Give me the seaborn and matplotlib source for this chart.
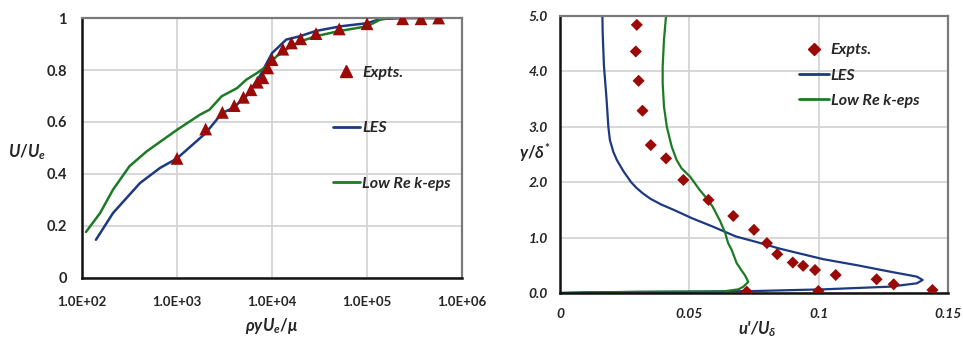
import matplotlib
matplotlib.use("Agg")
import matplotlib.pyplot as plt
import matplotlib.ticker as mticker
from matplotlib.lines import Line2D
import numpy as np
import pandas as pd
import seaborn as sns

# ---- mean velocity profile (left) ----
vel_exp_re = [1000, 2000, 3000, 4000, 5000, 6000, 7000, 8000, 9000, 10000,
              13000, 16000, 20000, 29000, 51000, 100000, 237000, 370000, 567000]
vel_exp_u = [0.46, 0.573, 0.637, 0.663, 0.695, 0.724, 0.753, 0.77, 0.808, 0.84,
             0.88, 0.904, 0.92, 0.94, 0.958, 0.978, 0.997, 0.997, 1.0]

vel_les_re = [140, 212, 407, 660, 1000, 2000, 2990, 3900, 5370, 7410, 10000,
              14100, 19700, 28800, 52500, 100000, 138000, 251000, 562000]
vel_les_u = [0.147, 0.25, 0.365, 0.423, 0.46, 0.557, 0.635, 0.654, 0.70, 0.776,
             0.865, 0.917, 0.93, 0.95, 0.968, 0.98, 0.996, 1.0, 1.0]

vel_ke_re = [110, 155, 212, 316, 479, 1000, 1740, 2190, 2950, 4270, 5370, 6920,
             8710, 11200, 15500, 20000, 28800, 51300, 100000, 138000, 174000, 562000]
vel_ke_u = [0.177, 0.25, 0.34, 0.43, 0.487, 0.57, 0.628, 0.647, 0.699, 0.73, 0.763,
            0.788, 0.814, 0.853, 0.89, 0.91, 0.93, 0.95, 0.968, 0.994, 1.0, 1.0]

vel_xticks = [1e2, 1e3, 1e4, 1e5, 1e6]
vel_xticklabels = ["1.0E+02", "1.0E+03", "1.0E+04", "1.0E+05", "1.0E+06"]
vel_yticks = [0, 0.2, 0.4, 0.6, 0.8, 1.0]
vel_yticklabels = ["0", "0.2", "0.4", "0.6", "0.8", "1"]

# ---- streamwise turbulence intensity (right) ----
rms_exp_u = [0.0297, 0.0293, 0.0304, 0.0319, 0.0351, 0.041, 0.0477, 0.0574, 0.067,
             0.075, 0.080, 0.084, 0.090, 0.094, 0.0986, 0.1066, 0.1224, 0.129,
             0.144, 0.0999, 0.0722]
rms_exp_y = [4.84, 4.36, 3.83, 3.29, 2.67, 2.43, 2.04, 1.68, 1.39, 1.14, 0.90, 0.70,
             0.55, 0.49, 0.415, 0.325, 0.247, 0.157, 0.054, 0.036, 0.024]

rms_les_u = [0.0, 0.01, 0.03, 0.05, 0.075, 0.1018, 0.1276, 0.138, 0.1402, 0.138,
             0.1276, 0.115, 0.1018, 0.085, 0.076, 0.068, 0.059, 0.051, 0.044,
             0.039, 0.035, 0.032, 0.0295, 0.0275, 0.0245, 0.022, 0.0206, 0.0193,
             0.0187, 0.018, 0.017, 0.0165, 0.0164]
rms_les_y = [0.0, 0.012, 0.02, 0.025, 0.035, 0.066, 0.114, 0.175, 0.235, 0.295,
             0.385, 0.50, 0.61, 0.80, 0.92, 1.02, 1.20, 1.35, 1.50,
             1.60, 1.70, 1.80, 1.90, 2.00, 2.20, 2.40, 2.55, 2.76,
             3.0, 3.5, 4.1, 4.7, 5.0]

rms_ke_u = [0.0, 0.03, 0.0627, 0.069, 0.0709, 0.0728, 0.0715, 0.0703, 0.0683, 0.0664,
            0.065, 0.0639, 0.062, 0.059, 0.0567, 0.054, 0.0503, 0.047, 0.0451,
            0.0432, 0.0413, 0.0402, 0.0397, 0.0397, 0.0402, 0.041]
rms_ke_y = [0.0, 0.02, 0.026, 0.066, 0.114, 0.20, 0.32, 0.40, 0.54, 0.776,
            0.9, 1.08, 1.29, 1.56, 1.71, 1.86, 2.1, 2.25, 2.4,
            2.64, 3.0, 3.37, 3.79, 4.09, 4.57, 5.0]

rms_xticks = [0, 0.05, 0.1, 0.15]
rms_xticklabels = ["0", "0.05", "0.1", "0.15"]
rms_yticks = [0, 1, 2, 3, 4, 5]
rms_yticklabels = ["0.0", "1.0", "2.0", "3.0", "4.0", "5.0"]

series_names = ["Expts.", "LES", "Low Re k-eps"]

# ---- styling ----
sns.set_theme(style="whitegrid")
plt.rcParams["font.family"] = ["Lato", "DejaVu Sans"]
plt.rcParams["mathtext.fontset"] = "custom"
plt.rcParams["mathtext.it"] = "Lato:italic:bold"
plt.rcParams["mathtext.rm"] = "Lato:bold"
plt.rcParams["mathtext.bf"] = "Lato:bold"

RED = "#9a0a06"
BLUE = "#1d3a80"
GREEN = "#1d7a25"
GRID = "#d4d4d4"

fig = plt.figure(figsize=(9.63, 3.41), dpi=100)
ax1 = fig.add_axes([0.0852, 0.1848, 0.3946, 0.7624])
ax2 = fig.add_axes([0.5815, 0.1408, 0.4029, 0.8123])


def frame(ax):
    ax.set_facecolor("white")
    ax.grid(True, color=GRID, linewidth=1.3)
    ax.set_axisbelow(True)
    for side in ("left", "bottom"):
        ax.spines[side].set_color("#111111")
        ax.spines[side].set_linewidth(1.8)
    for side in ("top", "right"):
        ax.spines[side].set_color("#7a7a7a")
        ax.spines[side].set_linewidth(1.6)
    ax.tick_params(length=0)


# left panel
vel_les = pd.DataFrame({"x": vel_les_re, "y": vel_les_u})
vel_ke = pd.DataFrame({"x": vel_ke_re, "y": vel_ke_u})
vel_exp = pd.DataFrame({"x": vel_exp_re, "y": vel_exp_u})

sns.lineplot(data=vel_les, x="x", y="y", ax=ax1, color=BLUE, linewidth=1.8,
             sort=False, estimator=None)
sns.lineplot(data=vel_ke, x="x", y="y", ax=ax1, color=GREEN, linewidth=1.8,
             sort=False, estimator=None)
sns.scatterplot(data=vel_exp, x="x", y="y", ax=ax1, color=RED, marker="^",
                s=85, edgecolor="none", zorder=5)
ax1.set_xscale("log")
ax1.set_xlim(1e2, 1e6)
ax1.set_ylim(0, 1)
ax1.xaxis.set_major_locator(mticker.FixedLocator(vel_xticks))
ax1.xaxis.set_minor_locator(mticker.NullLocator())
ax1.set_xticks(vel_xticks)
ax1.set_xticklabels(vel_xticklabels, fontsize=9.5, fontweight="bold")
ax1.set_yticks(vel_yticks)
ax1.set_yticklabels(vel_yticklabels, fontsize=10.5, fontweight="bold")
frame(ax1)
ax1.tick_params(axis="x", pad=13)
ax1.tick_params(axis="y", pad=11)
ax1.set_xlabel(r"$\rho yU_e/\mu$", fontsize=12, va="center")
ax1.xaxis.set_label_coords(0.5, -0.185)
ax1.set_ylabel(r"$U/U_e$", fontsize=12, rotation=0, ha="center", va="center")
ax1.yaxis.set_label_coords(-0.145, 0.485)

h1 = [Line2D([], [], color=RED, marker="^", linestyle="none", markersize=9),
      Line2D([], [], color=BLUE, linewidth=2.0),
      Line2D([], [], color=GREEN, linewidth=2.0)]
ax1.legend(h1, series_names, loc="upper left", bbox_to_anchor=(0.66, 0.818),
           frameon=False, borderpad=0, borderaxespad=0, handlelength=1.7,
           handletextpad=0.15, labelspacing=2.6,
           prop={"family": "Lato", "weight": "bold", "style": "italic", "size": 11.5})

# right panel
rms_les = pd.DataFrame({"x": rms_les_u, "y": rms_les_y})
rms_ke = pd.DataFrame({"x": rms_ke_u, "y": rms_ke_y})
rms_exp = pd.DataFrame({"x": rms_exp_u, "y": rms_exp_y})

sns.lineplot(data=rms_les, x="x", y="y", ax=ax2, color=BLUE, linewidth=1.6,
             sort=False, estimator=None)
sns.lineplot(data=rms_ke, x="x", y="y", ax=ax2, color=GREEN, linewidth=1.6,
             sort=False, estimator=None)
sns.scatterplot(data=rms_exp, x="x", y="y", ax=ax2, color=RED, marker="D",
                s=38, edgecolor="none", zorder=5)
ax2.set_xlim(0, 0.15)
ax2.set_ylim(0, 5)
ax2.set_xticks(rms_xticks)
ax2.set_xticklabels(rms_xticklabels, fontsize=10, fontweight="bold", style="italic")
ax2.set_yticks(rms_yticks)
ax2.set_yticklabels(rms_yticklabels, fontsize=10, fontweight="bold", style="italic")
frame(ax2)
ax2.tick_params(axis="x", pad=11)
ax2.tick_params(axis="y", pad=9)
ax2.set_xlabel(r"$u$'/$U_\delta$", fontsize=12, va="center",
               fontweight="bold", fontstyle="italic")
ax2.xaxis.set_label_coords(0.508, -0.13)
ax2.set_ylabel(r"$y/\delta^{*}$", fontsize=12, rotation=0, ha="center", va="center")
ax2.yaxis.set_label_coords(-0.064, 0.505)

h2 = [Line2D([], [], color=RED, marker="D", linestyle="none", markersize=6),
      Line2D([], [], color=BLUE, linewidth=2.0),
      Line2D([], [], color=GREEN, linewidth=2.0)]
ax2.legend(h2, series_names, loc="upper left", bbox_to_anchor=(0.615, 0.902),
           frameon=False, borderpad=0, borderaxespad=0, handlelength=1.9,
           handletextpad=0.1, labelspacing=0.7,
           prop={"family": "Lato", "weight": "bold", "style": "italic", "size": 11.5})

fig.savefig("out.png", dpi=100, facecolor="white")
